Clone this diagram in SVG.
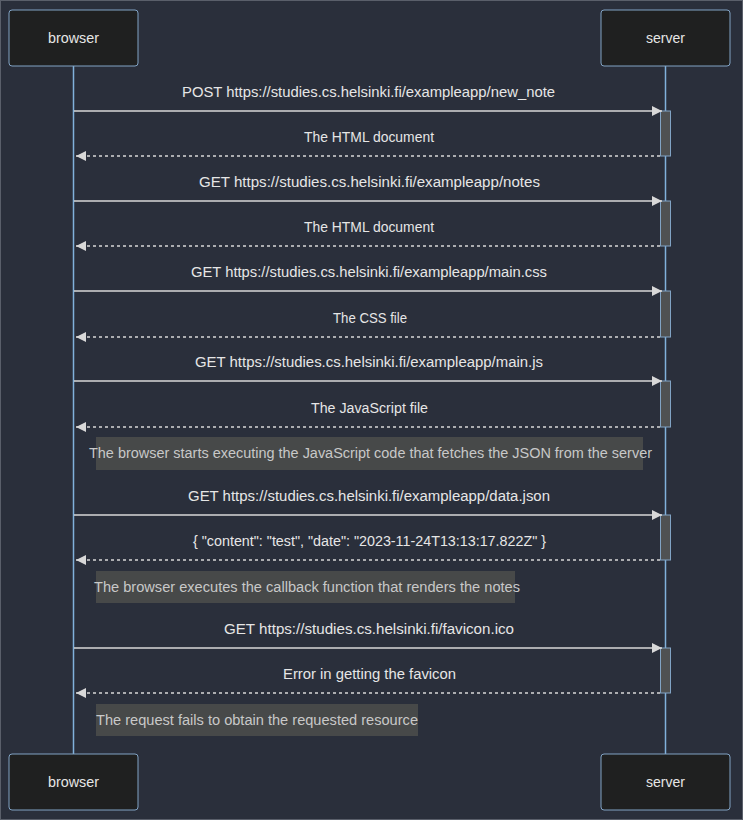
<svg xmlns="http://www.w3.org/2000/svg" width="743" height="820" viewBox="0 0 743 820">
<style>
.bg{fill:#2a2f3b;stroke:#5a5f6a;stroke-width:1}
.actor{fill:#1f2020;stroke:#81a3c4;stroke-width:1}
.life{stroke:#81b1db;stroke-width:1.5}
.act{fill:#4f5152;stroke:#81a3c4;stroke-width:1}
.msg{stroke:#d8d8d8;stroke-width:1.5;fill:none}
.ret{stroke:#d8d8d8;stroke-width:1.5;fill:none;stroke-dasharray:3,3}
.note{fill:#474949}
text{font-family:"Liberation Sans","DejaVu Sans",Arial,sans-serif;font-size:14px;text-anchor:middle;dominant-baseline:central}
.t{fill:#e6e6e6}
.nt{fill:#c8c8c8}
</style>
<defs>
<marker id="ah" markerWidth="12" markerHeight="12" refX="10" refY="5" orient="auto" markerUnits="userSpaceOnUse" viewBox="0 0 12 10">
<path d="M0,0 L10,5 L0,10 z" fill="#d8d8d8"/>
</marker>
</defs>
<rect class="bg" x="0.5" y="0.5" width="742" height="819"/>
<g id="lifelines">
<line class="life" x1="73.5" y1="66" x2="73.5" y2="754"/>
<line class="life" x1="665.5" y1="66" x2="665.5" y2="754"/>
</g>
<g id="actor-browser-top"><rect class="actor" x="9" y="10" width="129" height="56" rx="3"/><text class="t" x="73.5" y="38" textLength="51" lengthAdjust="spacingAndGlyphs">browser</text></g>
<g id="actor-server-top"><rect class="actor" x="601" y="10" width="129" height="56" rx="3"/><text class="t" x="665.5" y="38" textLength="39" lengthAdjust="spacingAndGlyphs">server</text></g>
<g id="actor-browser-bottom"><rect class="actor" x="9" y="754" width="129" height="56" rx="3"/><text class="t" x="73.5" y="782" textLength="51" lengthAdjust="spacingAndGlyphs">browser</text></g>
<g id="actor-server-bottom"><rect class="actor" x="601" y="754" width="129" height="56" rx="3"/><text class="t" x="665.5" y="782" textLength="39" lengthAdjust="spacingAndGlyphs">server</text></g>
<g id="activations">
<rect class="act" x="660.5" y="111" width="10" height="45"/>
<rect class="act" x="660.5" y="201" width="10" height="45"/>
<rect class="act" x="660.5" y="291" width="10" height="46"/>
<rect class="act" x="660.5" y="381" width="10" height="46"/>
<rect class="act" x="660.5" y="515" width="10" height="45"/>
<rect class="act" x="660.5" y="648" width="10" height="45"/>
</g>
<g id="connectors">
<line class="msg" x1="74" y1="111" x2="662" y2="111" marker-end="url(#ah)"/>
<line class="ret" x1="660" y1="156" x2="76" y2="156" marker-end="url(#ah)"/>
<line class="msg" x1="74" y1="201" x2="662" y2="201" marker-end="url(#ah)"/>
<line class="ret" x1="660" y1="246" x2="76" y2="246" marker-end="url(#ah)"/>
<line class="msg" x1="74" y1="291" x2="662" y2="291" marker-end="url(#ah)"/>
<line class="ret" x1="660" y1="337" x2="76" y2="337" marker-end="url(#ah)"/>
<line class="msg" x1="74" y1="381" x2="662" y2="381" marker-end="url(#ah)"/>
<line class="ret" x1="660" y1="427" x2="76" y2="427" marker-end="url(#ah)"/>
<line class="msg" x1="74" y1="515" x2="662" y2="515" marker-end="url(#ah)"/>
<line class="ret" x1="660" y1="560" x2="76" y2="560" marker-end="url(#ah)"/>
<line class="msg" x1="74" y1="648" x2="662" y2="648" marker-end="url(#ah)"/>
<line class="ret" x1="660" y1="693" x2="76" y2="693" marker-end="url(#ah)"/>
</g>
<g id="labels">
<text class="t" x="368.5" y="92" textLength="373" lengthAdjust="spacingAndGlyphs">POST https://studies.cs.helsinki.fi/exampleapp/new_note</text>
<text class="t" x="369" y="137" textLength="130" lengthAdjust="spacingAndGlyphs">The HTML document</text>
<text class="t" x="369.5" y="182" textLength="341" lengthAdjust="spacingAndGlyphs">GET https://studies.cs.helsinki.fi/exampleapp/notes</text>
<text class="t" x="369" y="227" textLength="130" lengthAdjust="spacingAndGlyphs">The HTML document</text>
<text class="t" x="369" y="272" textLength="356" lengthAdjust="spacingAndGlyphs">GET https://studies.cs.helsinki.fi/exampleapp/main.css</text>
<text class="t" x="370" y="318" textLength="74" lengthAdjust="spacingAndGlyphs">The CSS file</text>
<text class="t" x="369" y="362" textLength="348" lengthAdjust="spacingAndGlyphs">GET https://studies.cs.helsinki.fi/exampleapp/main.js</text>
<text class="t" x="369.5" y="408" textLength="117" lengthAdjust="spacingAndGlyphs">The JavaScript file</text>
<text class="t" x="369" y="496" textLength="362" lengthAdjust="spacingAndGlyphs">GET https://studies.cs.helsinki.fi/exampleapp/data.json</text>
<text class="t" x="369.5" y="541" textLength="353" lengthAdjust="spacingAndGlyphs">{ "content": "test", "date": "2023-11-24T13:13:17.822Z" }</text>
<text class="t" x="369" y="629" textLength="290" lengthAdjust="spacingAndGlyphs">GET https://studies.cs.helsinki.fi/favicon.ico</text>
<text class="t" x="369.5" y="674" textLength="173" lengthAdjust="spacingAndGlyphs">Error in getting the favicon</text>
</g>
<g id="note-1"><rect class="note" x="96" y="437" width="547" height="33"/><text class="nt" x="370.5" y="453" textLength="563" lengthAdjust="spacingAndGlyphs">The browser starts executing the JavaScript code that fetches the JSON from the server</text></g>
<g id="note-2"><rect class="note" x="96" y="571" width="419" height="32"/><text class="nt" x="307" y="587" textLength="426" lengthAdjust="spacingAndGlyphs">The browser executes the callback function that renders the notes</text></g>
<g id="note-3"><rect class="note" x="96" y="704" width="322" height="32"/><text class="nt" x="257" y="720" textLength="322" lengthAdjust="spacingAndGlyphs">The request fails to obtain the requested resource</text></g>
</svg>
